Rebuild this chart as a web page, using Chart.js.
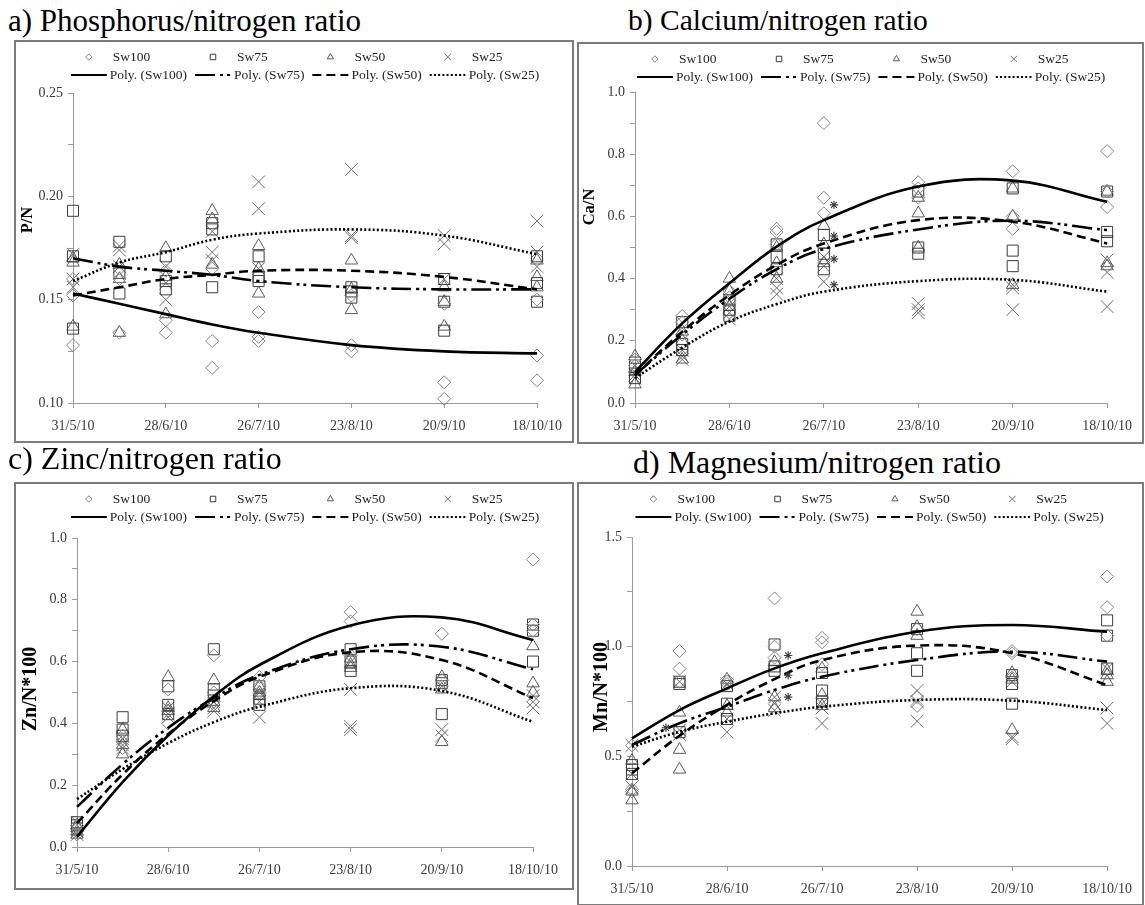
<!DOCTYPE html>
<html>
<head>
<meta charset="utf-8">
<script src="https://cdn.jsdelivr.net/npm/chart.js@4.4.1/dist/chart.umd.min.js"></script>
<style>
  html, body { margin: 0; padding: 0; background: #fff; }
  body { width: 1145px; height: 905px; position: relative; overflow: hidden;
         font-family: "Liberation Serif", "Times New Roman", serif; }
  .title { position: absolute; color: #000; white-space: nowrap; transform-origin: 0 0; }
  .panel { position: absolute; border: 2px solid #7c7c7c; box-sizing: border-box; background: #fff; }
  .panel canvas { position: absolute; left: 0; top: 0; }
</style>
</head>
<body>
<div class="panel" id="pa"><canvas id="ca"></canvas></div>
<div class="panel" id="pb"><canvas id="cb"></canvas></div>
<div class="panel" id="pc"><canvas id="cc"></canvas></div>
<div class="panel" id="pd"><canvas id="cd"></canvas></div>
<div class="title" style="left:8px;top:5px;font-size:31px;line-height:31px">a) Phosphorus/nitrogen ratio</div>
<div class="title" style="left:628px;top:6px;font-size:29.5px;line-height:29.5px">b) Calcium/nitrogen ratio</div>
<div class="title" style="left:8px;top:442px;font-size:32px;line-height:32px">c) Zinc/nitrogen ratio</div>
<div class="title" style="left:633px;top:446px;font-size:32px;line-height:32px">d) Magnesium/nitrogen ratio</div>

<script>
// Sampling dates, as days after 31 May 2010, and the date labels of the x axis
const sampleDays = [0, 14, 28, 42, 56, 84, 112, 140];
const dateTicks = ['31/5/10', '28/6/10', '26/7/10', '23/8/10', '20/9/10', '18/10/10'];
const seriesNames = ['Sw100', 'Sw75', 'Sw50', 'Sw25'];

// a) P/N — replicate values per sampling date
const pnSw100 = [[0.160, 0.152, 0.128], [0.165, 0.134, 0.160], [0.164, 0.134, 0.140], [0.130, 0.117, 0.165],
                 [0.144, 0.130, 0.132], [0.128, 0.152, 0.125], [0.110, 0.102, 0.148], [0.123, 0.111, 0.150]];
const pnSw75  = [[0.193, 0.171, 0.136], [0.178, 0.163, 0.153], [0.171, 0.159, 0.155], [0.187, 0.156, 0.184],
                 [0.171, 0.159, 0.161], [0.156, 0.151, 0.154], [0.160, 0.149, 0.135], [0.171, 0.158, 0.149]];
const pnSw50  = [[0.170, 0.168, 0.137], [0.167, 0.134, 0.160], [0.175, 0.143, 0.161], [0.193, 0.189, 0.167],
                 [0.176, 0.153, 0.165], [0.169, 0.145, 0.155], [0.156, 0.149, 0.137], [0.169, 0.161, 0.156]];
const pnSw25  = [[0.172, 0.156, 0.160], [0.176, 0.174, 0.166], [0.166, 0.150, 0.158], [0.183, 0.173, 0.169],
                 [0.207, 0.194, 0.165], [0.213, 0.181, 0.180], [0.181, 0.177, 0.160], [0.188, 0.173, 0.166]];
// a) second order polynomial trendlines, value at each sampling date
const pnPoly100 = [0.153, 0.148, 0.143, 0.138, 0.134, 0.128, 0.125, 0.124];
const pnPoly75  = [0.170, 0.166, 0.164, 0.162, 0.159, 0.156, 0.155, 0.155];
const pnPoly50  = [0.152, 0.156, 0.160, 0.162, 0.164, 0.164, 0.161, 0.155];
const pnPoly25  = [0.159, 0.168, 0.173, 0.179, 0.182, 0.184, 0.181, 0.172];
const pnStars = [];

// b) Ca/N
const canSw100 = [[0.14, 0.12, 0.10], [0.28, 0.26, 0.22], [0.34, 0.33, 0.36], [0.56, 0.55, 0.51],
                  [0.90, 0.66, 0.61], [0.71, 0.69, 0.66], [0.745, 0.60, 0.56], [0.81, 0.68, 0.63]];
const canSw75  = [[0.13, 0.11, 0.08], [0.26, 0.19, 0.17], [0.33, 0.30, 0.28], [0.51, 0.47, 0.43],
                  [0.54, 0.48, 0.43], [0.68, 0.50, 0.48], [0.69, 0.49, 0.44], [0.68, 0.55, 0.52]];
const canSw50  = [[0.15, 0.10, 0.06], [0.23, 0.20, 0.14], [0.40, 0.36, 0.31], [0.50, 0.45, 0.40],
                  [0.57, 0.51, 0.45], [0.66, 0.61, 0.50], [0.69, 0.60, 0.38], [0.68, 0.45, 0.44]];
const canSw25  = [[0.12, 0.09, 0.08], [0.17, 0.15, 0.14], [0.31, 0.29, 0.27], [0.40, 0.37, 0.35],
                  [0.47, 0.44, 0.39], [0.32, 0.30, 0.29], [0.38, 0.37, 0.30], [0.46, 0.42, 0.31]];
const canPoly100 = [0.100, 0.256, 0.385, 0.503, 0.588, 0.696, 0.715, 0.647];
const canPoly75  = [0.090, 0.220, 0.335, 0.430, 0.495, 0.558, 0.586, 0.556];
const canPoly50  = [0.090, 0.229, 0.347, 0.444, 0.513, 0.588, 0.583, 0.513];
const canPoly25  = [0.080, 0.178, 0.262, 0.318, 0.358, 0.392, 0.396, 0.358];
const canStars = [[59, 0.637], [59, 0.537], [59, 0.463], [59, 0.38]];

// c) Zn/N*100
const znSw100 = [[0.05, 0.04, 0.07], [0.34, 0.36, 0.32], [0.51, 0.40, 0.44], [0.62, 0.50, 0.47],
                 [0.55, 0.52, 0.50], [0.76, 0.73, 0.62], [0.69, 0.54, 0.52], [0.93, 0.72, 0.70]];
const znSw75  = [[0.08, 0.07, 0.06], [0.42, 0.38, 0.36], [0.52, 0.46, 0.43], [0.64, 0.51, 0.49],
                 [0.52, 0.48, 0.46], [0.64, 0.60, 0.57], [0.54, 0.53, 0.43], [0.72, 0.70, 0.60]];
const znSw50  = [[0.07, 0.05, 0.04], [0.38, 0.33, 0.30], [0.55, 0.45, 0.44], [0.54, 0.47, 0.45],
                 [0.52, 0.50, 0.49], [0.61, 0.59, 0.58], [0.55, 0.51, 0.34], [0.65, 0.53, 0.50]];
const znSw25  = [[0.08, 0.05, 0.04], [0.35, 0.33, 0.32], [0.45, 0.42, 0.43], [0.47, 0.45, 0.44],
                 [0.50, 0.47, 0.42], [0.51, 0.39, 0.38], [0.52, 0.38, 0.36], [0.49, 0.47, 0.45]];
const znPoly100 = [0.033, 0.210, 0.361, 0.488, 0.589, 0.717, 0.743, 0.670];
const znPoly75  = [0.130, 0.268, 0.386, 0.482, 0.557, 0.640, 0.648, 0.575];
const znPoly50  = [0.077, 0.235, 0.366, 0.472, 0.551, 0.630, 0.605, 0.482];
const znPoly25  = [0.155, 0.252, 0.336, 0.404, 0.454, 0.514, 0.505, 0.405];
const znStars = [];

// d) Mn/N*100
const mnSw100 = [[0.55, 0.35, 0.34], [0.98, 0.90, 0.84], [0.85, 0.84, 0.83], [1.22, 1.00, 0.95],
                 [1.04, 1.02, 0.92], [1.08, 0.77, 0.73], [0.98, 0.97, 0.86], [1.32, 1.18, 1.05]];
const mnSw75  = [[0.46, 0.44, 0.42], [0.84, 0.83, 0.61], [0.82, 0.74, 0.67], [1.01, 0.91, 0.89],
                 [0.88, 0.80, 0.75], [1.08, 0.97, 0.89], [0.87, 0.83, 0.74], [1.12, 1.05, 0.90]];
const mnSw50  = [[0.48, 0.30, 0.34], [0.70, 0.53, 0.44], [0.85, 0.73, 0.70], [0.93, 0.77, 0.72],
                 [0.90, 0.78, 0.73], [1.16, 1.09, 1.05], [0.88, 0.85, 0.62], [0.89, 0.87, 0.84]];
const mnSw25  = [[0.55, 0.42, 0.36], [0.84, 0.62, 0.60], [0.83, 0.67, 0.61], [0.77, 0.74, 0.71],
                 [0.74, 0.72, 0.65], [0.80, 0.75, 0.66], [0.84, 0.59, 0.58], [0.90, 0.72, 0.65]];
const mnPoly100 = [0.582, 0.711, 0.810, 0.901, 0.970, 1.068, 1.099, 1.068];
const mnPoly75  = [0.552, 0.651, 0.726, 0.803, 0.863, 0.939, 0.977, 0.932];
const mnPoly50  = [0.423, 0.594, 0.735, 0.852, 0.939, 1.005, 0.970, 0.825];
const mnPoly25  = [0.544, 0.612, 0.658, 0.696, 0.726, 0.757, 0.754, 0.711];
const mnStars = [[10, 0.63], [46, 0.96], [46, 0.87], [46, 0.77]];

// ---- styling ----
const serif = '"Liberation Serif", "Times New Roman", serif';
const markerStyles = [
  { style: 'rectRot',  radius: 6.5, color: '#858585' },
  { style: 'rect',     radius: 7.8, color: '#3c3c3c' },
  { style: 'triangle', radius: 7.2, color: '#5c5c5c' },
  { style: 'crossRot', radius: 9,   color: '#6e6e6e' }
];
const trendDash = [[], [20, 5, 3, 4, 3, 5], [9, 5], [2, 2.2]];

function buildDatasets(series, polys, stars) {
  const marks = [], trends = [];
  series.forEach((reps, s) => {
    const pts = [];
    reps.forEach((vals, i) => vals.forEach(v => pts.push({ x: sampleDays[i], y: v })));
    const ms = markerStyles[s];
    marks.push({
      label: seriesNames[s], kind: 'points', data: pts, showLine: false,
      pointStyle: ms.style, pointRadius: ms.radius, pointBorderWidth: 1,
      borderColor: ms.color, pointBorderColor: ms.color,
      backgroundColor: 'rgba(0,0,0,0)', pointBackgroundColor: 'rgba(0,0,0,0)',
      clip: false, order: 2
    });
    trends.push({
      label: 'Poly. (' + seriesNames[s] + ')', kind: 'trend',
      data: polys[s].map((v, i) => ({ x: sampleDays[i], y: v })), showLine: true,
      pointRadius: 0, borderColor: '#000', borderWidth: 2.6, borderDash: trendDash[s],
      tension: 0.4, fill: false, clip: false, order: 1
    });
  });
  const out = marks.concat(trends);
  if (stars.length) {
    out.push({
      label: '*', kind: 'mark', data: stars.map(([x, y]) => ({ x, y })), showLine: false,
      pointStyle: 'star', pointRadius: 4.2, pointBorderWidth: 1.1,
      borderColor: '#3a3a3a', pointBorderColor: '#3a3a3a', clip: false, order: 0
    });
  }
  return out;
}

function drawMarker(ctx, style, x, y, r) {
  ctx.beginPath();
  if (style === 'rectRot') {
    ctx.moveTo(x, y - r); ctx.lineTo(x + r, y); ctx.lineTo(x, y + r); ctx.lineTo(x - r, y); ctx.closePath();
  } else if (style === 'rect') {
    const h = r * Math.SQRT1_2; ctx.rect(x - h, y - h, 2 * h, 2 * h);
  } else if (style === 'triangle') {
    const a = -Math.PI / 2;
    for (let k = 0; k < 3; k++) {
      const t = a + k * 2 * Math.PI / 3;
      const px = x + Math.cos(t) * r, py = y + Math.sin(t) * r;
      if (k === 0) ctx.moveTo(px, py); else ctx.lineTo(px, py);
    }
    ctx.closePath();
  } else {
    const h = r * Math.SQRT1_2;
    ctx.moveTo(x - h, y - h); ctx.lineTo(x + h, y + h);
    ctx.moveTo(x + h, y - h); ctx.lineTo(x - h, y + h);
  }
  ctx.stroke();
}

// Two-row legend laid out in columns: markers above, trendlines below
const columnLegend = {
  id: 'columnLegend',
  afterDraw(chart, args, opts) {
    const ctx = chart.ctx;
    const ds = chart.data.datasets;
    const pts = ds.filter(d => d.kind === 'points');
    const trs = ds.filter(d => d.kind === 'trend');
    ctx.save();
    ctx.font = opts.font;
    ctx.textBaseline = 'middle';
    ctx.textAlign = 'left';
    const widths = pts.map((d, i) => opts.sampleWidth + opts.textGap +
      Math.max(ctx.measureText(d.label).width, ctx.measureText(trs[i].label).width));
    const total = widths.reduce((a, b) => a + b, 0) + opts.columnGap * (widths.length - 1);
    let x = (chart.chartArea.left + chart.chartArea.right) / 2 - total / 2 + opts.shift;
    pts.forEach((d, i) => {
      const t = trs[i];
      const cx = x + opts.sampleWidth / 2;
      ctx.lineWidth = 1;
      ctx.setLineDash([]);
      ctx.strokeStyle = d.borderColor;
      drawMarker(ctx, d.pointStyle, cx, opts.rows[0], d.pointRadius * 0.5);
      ctx.strokeStyle = t.borderColor;
      ctx.lineWidth = t.borderWidth * 0.85;
      ctx.setLineDash(t.borderDash || []);
      ctx.beginPath();
      ctx.moveTo(x, opts.rows[1]);
      ctx.lineTo(x + opts.sampleWidth, opts.rows[1]);
      ctx.stroke();
      ctx.setLineDash([]);
      ctx.fillStyle = opts.color;
      ctx.fillText(d.label, x + opts.sampleWidth + opts.textGap + opts.topTextShift, opts.rows[0]);
      ctx.fillText(t.label, x + opts.sampleWidth + opts.textGap, opts.rows[1]);
      x += widths[i] + opts.columnGap;
    });
    ctx.restore();
  }
};

// Rotated y-axis title at a fixed position
const sideTitle = {
  id: 'sideTitle',
  afterDraw(chart, args, opts) {
    const ctx = chart.ctx;
    ctx.save();
    ctx.translate(opts.x, opts.y);
    ctx.rotate(-Math.PI / 2);
    ctx.font = 'bold ' + opts.size + 'px ' + serif;
    ctx.fillStyle = '#000';
    ctx.textAlign = 'center';
    ctx.textBaseline = 'middle';
    ctx.fillText(opts.text, 0, 0);
    ctx.restore();
  }
};

const panels = [
  { panel: 'pa', canvas: 'ca', frame: { l: 14, t: 40, r: 574, b: 443 }, area: { l: 73, t: 93, r: 537, b: 403 },
    y: { min: 0.10, max: 0.25, step: 0.025, dec: 2 }, title: { text: 'P/N', x: 28, y: 220, size: 16.5 },
    series: [pnSw100, pnSw75, pnSw50, pnSw25], polys: [pnPoly100, pnPoly75, pnPoly50, pnPoly25], stars: pnStars },
  { panel: 'pb', canvas: 'cb', frame: { l: 577, t: 42, r: 1144, b: 444 }, area: { l: 635, t: 92, r: 1114, b: 403 },
    y: { min: 0, max: 1.0, step: 0.1, dec: 1 }, title: { text: 'Ca/N', x: 590, y: 207, size: 16.5 },
    series: [canSw100, canSw75, canSw50, canSw25], polys: [canPoly100, canPoly75, canPoly50, canPoly25], stars: canStars },
  { panel: 'pc', canvas: 'cc', frame: { l: 14, t: 482, r: 574, b: 890 }, area: { l: 77, t: 538, r: 533, b: 847 },
    y: { min: 0, max: 1.0, step: 0.1, dec: 1 }, title: { text: 'Zn/N*100', x: 31, y: 689, size: 20 },
    series: [znSw100, znSw75, znSw50, znSw25], polys: [znPoly100, znPoly75, znPoly50, znPoly25], stars: znStars },
  { panel: 'pd', canvas: 'cd', frame: { l: 577, t: 482, r: 1144, b: 906 }, area: { l: 632, t: 537, r: 1115, b: 866 },
    y: { min: 0, max: 1.5, step: 0.25, dec: 1 }, title: { text: 'Mn/N*100', x: 602, y: 687, size: 20 },
    series: [mnSw100, mnSw75, mnSw50, mnSw25], polys: [mnPoly100, mnPoly75, mnPoly50, mnPoly25], stars: mnStars }
];

const border = 2;
panels.forEach(p => {
  const div = document.getElementById(p.panel);
  const f = p.frame;
  div.style.left = f.l + 'px'; div.style.top = f.t + 'px';
  div.style.width = (f.r - f.l) + 'px'; div.style.height = (f.b - f.t) + 'px';
  const ox = f.l + border, oy = f.t + border;
  const W = f.r - f.l - 2 * border, H = f.b - f.t - 2 * border;
  const cv = document.getElementById(p.canvas);
  cv.width = W; cv.height = H;
  cv.style.width = W + 'px'; cv.style.height = H + 'px';
  const a = p.area;

  new Chart(cv, {
    type: 'scatter',
    data: { datasets: buildDatasets(p.series, p.polys, p.stars) },
    plugins: [columnLegend, sideTitle],
    options: {
      responsive: false,
      animation: false,
      events: [],
      devicePixelRatio: 1,
      layout: { padding: { left: 0, top: a.t - oy, right: ox + W - a.r, bottom: 0 } },
      plugins: {
        legend: { display: false },
        tooltip: { enabled: false },
        columnLegend: {
          font: '13.5px ' + serif, color: '#1e1e1e',
          rows: [f.t + 17 - oy, f.t + 35 - oy],
          sampleWidth: 36, textGap: 3, columnGap: 8, shift: 0, topTextShift: 3
        },
        sideTitle: { text: p.title.text, x: p.title.x - ox, y: p.title.y - oy, size: p.title.size }
      },
      scales: {
        x: {
          type: 'linear', min: sampleDays[0], max: sampleDays[sampleDays.length - 1],
          afterFit(scale) { scale.height = oy + H - a.b; },
          afterBuildTicks(scale) {
            scale.ticks = dateTicks.map((_, i) => ({ value: i * 28 }));
          },
          ticks: {
            autoSkip: false, maxRotation: 0, padding: 10, color: '#3a3a3a',
            font: { family: serif, size: 14 },
            callback: v => dateTicks[Math.round(v / 28)]
          },
          grid: { drawOnChartArea: false, drawTicks: true, tickLength: 5, color: '#9a9a9a' },
          border: { display: true, color: '#9a9a9a', width: 1 }
        },
        y: {
          type: 'linear', min: p.y.min, max: p.y.max,
          afterFit(scale) { scale.width = a.l - ox; },
          ticks: {
            stepSize: p.y.step, autoSkip: false, padding: 5, color: '#3a3a3a',
            font: { family: serif, size: 14 },
            callback: (v, i) => (i % 2 === 0 ? Number(v).toFixed(p.y.dec) : '')
          },
          grid: { drawOnChartArea: false, drawTicks: true, tickLength: 5, color: '#9a9a9a' },
          border: { display: true, color: '#9a9a9a', width: 1 }
        }
      }
    }
  });
});
</script>
</body>
</html>
